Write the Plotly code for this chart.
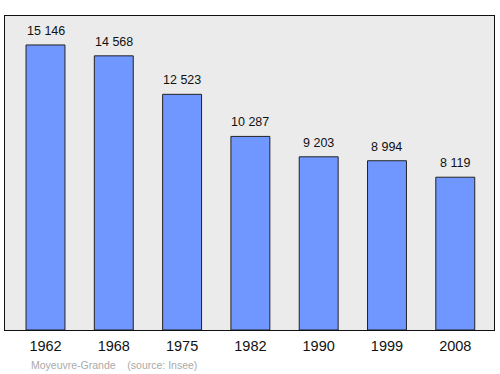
import plotly.graph_objects as go

years = ["1962", "1968", "1975", "1982", "1990", "1999", "2008"]
population = [15146, 14568, 12523, 10287, 9203, 8994, 8119]
labels = [f"{v:,}".replace(",", " ") for v in population]

fig = go.Figure()
fig.add_trace(go.Bar(
    x=years, y=population, width=0.57,
    marker=dict(color="#7097ff", line=dict(color="#222222", width=1)),
    hoverinfo="skip",
))
for i, (v, t) in enumerate(zip(population, labels)):
    fig.add_annotation(x=i, y=v, text=t, showarrow=False, yshift=14,
                       yanchor="middle", font=dict(size=12.5, color="#111111"))

fig.add_annotation(xref="paper", yref="paper", x=0.05, y=-0.112, xanchor="left",
                   yanchor="middle", showarrow=False,
                   text="Moyeuvre-Grande&nbsp;&nbsp;&nbsp;&nbsp;(source: Insee)",
                   font=dict(size=10.5, color="#aaaaaa"))

fig.update_layout(
    width=500, height=374,
    margin=dict(l=5, r=6, t=16, b=44),
    paper_bgcolor="white", plot_bgcolor="#ebebeb",
    font=dict(family="Liberation Sans, Arial, sans-serif"),
    showlegend=False,
)
fig.update_xaxes(type="category", range=[-0.593, 6.567], showline=True, mirror=True,
                 linecolor="#111111", linewidth=1, ticks="", showgrid=False,
                 ticklabelstandoff=3,
                 tickfont=dict(size=14.5, color="#111111"))
fig.update_yaxes(range=[0, 16685], showline=True, mirror=True, linecolor="#111111",
                 linewidth=1, showgrid=False, zeroline=False, showticklabels=False, ticks="")
fig.write_html("out.html")
